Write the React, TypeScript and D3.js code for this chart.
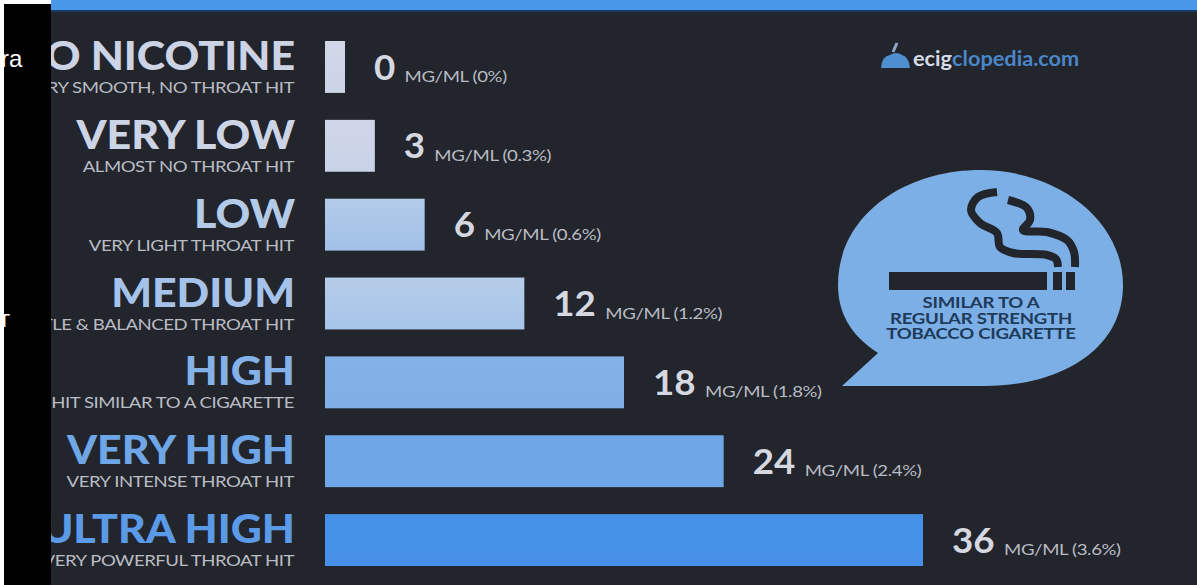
import React from "react";
import * as d3 from "d3";

const levels = ["NO NICOTINE", "VERY LOW", "LOW", "MEDIUM", "HIGH", "VERY HIGH", "ULTRA HIGH"];
const notes = [
  "VERY SMOOTH, NO THROAT HIT",
  "ALMOST NO THROAT HIT",
  "VERY LIGHT THROAT HIT",
  "SMOOTH, SUBTLE & BALANCED THROAT HIT",
  "THROAT HIT SIMILAR TO A CIGARETTE",
  "VERY INTENSE THROAT HIT",
  "VERY POWERFUL THROAT HIT",
];
const strengths = [0, 3, 6, 12, 18, 24, 36];
const percents = ["0%", "0.3%", "0.6%", "1.2%", "1.8%", "2.4%", "3.6%"];
const barTopColors = ["#d3d8e8", "#d0d6e8", "#b2cbe8", "#b5cce8", "#84b1e6", "#6fa6e8", "#4691e8"];
const barBottomColors = ["#ccd3e6", "#c9d2e8", "#a2c0e8", "#a6c5ea", "#80aee6", "#6fa6e8", "#4690e8"];
const titleColors = ["#ccd3e4", "#ccd4e6", "#b4cbe8", "#a5c3ea", "#84b2e8", "#6fa6e8", "#5a9ae6"];
const calloutLines = ["SIMILAR TO A", "REGULAR STRENGTH", "TOBACCO CIGARETTE"];

const W = 1197;
const H = 585;
const FONT = "Lato, 'Open Sans', sans-serif";
const BG = "#22252b";
const MIN_BAR = 20;

// Text is drawn wide: each run is stretched horizontally about its anchor.
const TITLE_STRETCH = 1.1;
const NOTE_STRETCH = 1.2;
const VALUE_STRETCH = 1.08;
const UNIT_STRETCH = 1.2;
const CALLOUT_STRETCH = 1.2;

const stretched = (ax: number, ay: number, sx: number) =>
  `translate(${ax},${ay}) scale(${sx},1)`;

export default function App() {
  const x = d3.scaleLinear().domain([0, 36]).range([0, 598]);
  const y = d3
    .scaleBand<string>()
    .domain(levels)
    .range([41, 566])
    .paddingInner(27 / 79)
    .paddingOuter(0);

  // Smoke trails of the cigarette icon, as point lists run through a smooth curve.
  const smoke = d3.line().curve(d3.curveCatmullRom.alpha(0.5));
  const outerSmoke: [number, number][] = [
    [1075, 267], [1074, 252], [1067, 240], [1047, 232], [1023, 230], [1030, 220],
    [1027, 208], [1008, 200],
  ];
  const innerSmoke: [number, number][] = [
    [1058, 267], [1056, 259], [1047, 255], [1013, 253], [1000, 247], [997, 233],
    [980, 223], [971, 210], [978, 197], [997, 192],
  ];

  return (
    <svg
      width={W}
      height={H}
      viewBox={`0 0 ${W} ${H}`}
      style={{ position: "fixed", left: 0, top: 0, display: "block" }}
    >
      <defs>
        {levels.map((level, i) => (
          <linearGradient key={level} id={`bar-${i}`} x1="0" y1="0" x2="0" y2="1">
            <stop offset="0" stopColor={barTopColors[i]} />
            <stop offset="1" stopColor={barBottomColors[i]} />
          </linearGradient>
        ))}
      </defs>

      <rect width={W} height={H} fill={BG} />
      <rect width={W} height={10} fill="#4997e8" />
      <rect y={10} width={W} height={2} fill="#173a63" />

      {levels.map((level, i) => {
        const top = y(level)!;
        const barW = Math.max(MIN_BAR, x(strengths[i]));
        const labelX = 325 + barW + 29;
        const digits = String(strengths[i]);
        const numW = digits.length * 21.5;
        return (
          <g key={level}>
            <rect x={325} y={top} width={barW} height={y.bandwidth()} fill={`url(#bar-${i})`} />
            <text
              transform={stretched(295, top + 29, TITLE_STRETCH)}
              textAnchor="end"
              fontFamily={FONT}
              fontWeight={900}
              fontSize={39}
              fill={titleColors[i]}
            >
              {level}
            </text>
            <text
              transform={stretched(294, top + 52, NOTE_STRETCH)}
              textAnchor="end"
              fontFamily={FONT}
              fontSize={15.5}
              letterSpacing={-0.4}
              fill="#b9bcc4"
            >
              {notes[i]}
            </text>
            <text
              transform={stretched(labelX, top + 38.5, VALUE_STRETCH)}
              fontFamily={FONT}
              fontWeight={700}
              fontSize={34}
              fill="#d5d8e0"
            >
              {digits}
            </text>
            <text
              transform={stretched(labelX + numW + 9, top + 41, UNIT_STRETCH)}
              fontFamily={FONT}
              fontSize={15.5}
              letterSpacing={-0.3}
              fill="#b9bcc4"
            >
              {`MG/ML (${percents[i]})`}
            </text>
          </g>
        );
      })}

      {/* Logo mark and site name */}
      <g>
        <path d="M881 68 Q882 56 890 55 Q896 51 902 55 Q909 57 910 68 Z" fill="#4f8fd0" />
        <path d="M893 52 L897 43" stroke="#8fa8c8" strokeWidth={3} fill="none" />
        <text transform={stretched(913, 66, 1.06)} fontFamily={FONT} fontWeight={700} fontSize={20.5}>
          <tspan fill="#d6dbe6">ecig</tspan>
          <tspan fill="#4a86c8">clopedia.com</tspan>
        </text>
      </g>

      {/* Speech bubble with the cigarette icon */}
      <path
        d="M838 285 C838 215 905 170 980 170 C1060 170 1123 222 1123 285 C1123 350 1060 386 985 386 L842 386 L878 353 C850 335 838 312 838 285 Z"
        fill="#7cafe6"
      />
      <rect x={889} y={272} width={158} height={18} fill={BG} />
      <rect x={1053} y={272} width={9} height={18} fill={BG} />
      <rect x={1066} y={272} width={9} height={18} fill={BG} />
      <path d={smoke(outerSmoke)!} fill="none" stroke={BG} strokeWidth={8} />
      <path d={smoke(innerSmoke)!} fill="none" stroke={BG} strokeWidth={8} />
      {calloutLines.map((line, i) => (
        <text
          key={line}
          transform={stretched(981, 308 + i * 15.5, CALLOUT_STRETCH)}
          textAnchor="middle"
          fontFamily={FONT}
          fontWeight={700}
          fontSize={15.5}
          letterSpacing={-0.2}
          fill="#203a5a"
        >
          {line}
        </text>
      ))}

      {/* Page strip overlapping the left edge */}
      <rect x={4} y={4} width={47} height={H - 4} fill="#000000" />
      <text x={1} y={67} fontFamily="Liberation Sans, Arial, sans-serif" fontSize={24} fill="#ffffff">
        ra
      </text>
      <text x={-1} y={327} fontFamily="Liberation Sans, Arial, sans-serif" fontSize={18} fill="#ffffff">
        T
      </text>
      <rect width={4} height={H} fill="#ffffff" />
      <rect x={4} width={47} height={4} fill="#ffffff" />
    </svg>
  );
}
